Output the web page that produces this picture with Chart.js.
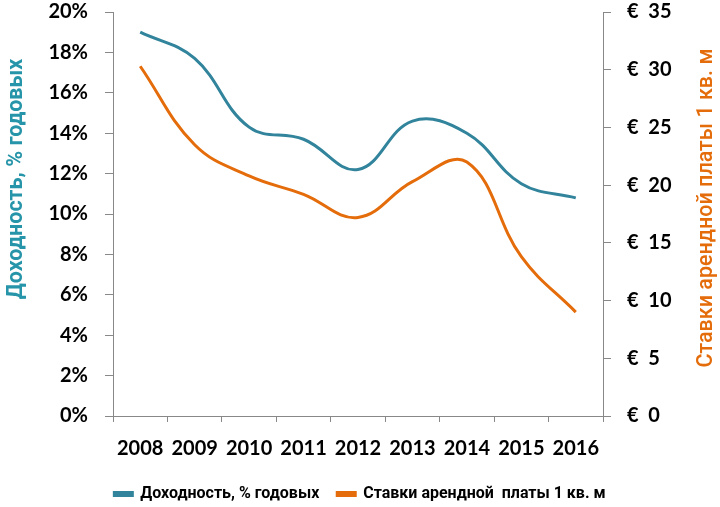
<!DOCTYPE html>
<html>
<head>
<meta charset="utf-8">
<script src="https://cdn.jsdelivr.net/npm/chart.js@4"></script>
<style>
  html, body { margin: 0; padding: 0; background: #fff; }
  #wrap { width: 720px; height: 507px; }
</style>
</head>
<body>
<div id="wrap"><canvas id="rentChart"></canvas></div>
<script>
const years = ['2008', '2009', '2010', '2011', '2012', '2013', '2014', '2015', '2016'];
const yieldPct = [19.0, 17.7, 14.3, 13.7, 12.2, 14.6, 14.0, 11.5, 10.8];
const rentEur = [30.3, 23.5, 20.8, 19.2, 17.2, 20.3, 22.0, 13.8, 9.0];
const yieldName = 'Доходность, % годовых';
const rentName = 'Ставки арендной  платы 1 кв. м';

const tealLine = '#31849B';
const orangeLine = '#E46C0A';
const axisGray = '#888888';
const tickFont = { family: 'Lato, Roboto, sans-serif', size: 20, weight: 'bold' };

// axis titles drawn by hand so they sit where the original has them
const axisTitles = {
  id: 'axisTitles',
  afterDraw(chart) {
    const ctx = chart.ctx;
    ctx.save();
    ctx.textAlign = 'center';
    ctx.textBaseline = 'middle';
    ctx.translate(17, 179);
    ctx.rotate(-Math.PI / 2);
    ctx.font = 'bold 21.5px Roboto, sans-serif';
    ctx.fillStyle = '#2795A9';
    ctx.fillText(yieldName, 0, 0);
    ctx.restore();

    ctx.save();
    ctx.textAlign = 'center';
    ctx.textBaseline = 'middle';
    ctx.translate(707, 208);
    ctx.rotate(-Math.PI / 2);
    ctx.font = '500 21.5px Roboto, sans-serif';
    ctx.fillStyle = '#E46C0A';
    ctx.fillText('Ставки арендной платы 1 кв. м', 0, 0);
    ctx.restore();
  }
};

// keep the value axes from reserving extra room above/below the plot
function fixSide(w) {
  return function(scale) {
    scale.width = w;
    scale.paddingTop = 12;
    scale.paddingBottom = 12;
  };
}

new Chart('rentChart', {
  type: 'line',
  data: {
    labels: years,
    datasets: [{
      label: yieldName + '  ',
      data: yieldPct,
      yAxisID: 'y',
      borderColor: tealLine,
      backgroundColor: tealLine,
      borderWidth: 3,
      pointRadius: 0,
      tension: 0.4
    }, {
      label: rentName,
      data: rentEur,
      yAxisID: 'y1',
      borderColor: orangeLine,
      backgroundColor: orangeLine,
      borderWidth: 3,
      pointRadius: 0,
      tension: 0.4
    }]
  },
  options: {
    responsive: true,
    maintainAspectRatio: false,
    animation: false,
    layout: { padding: { top: 0, bottom: -5 } },
    plugins: {
      legend: {
        position: 'bottom',
        labels: {
          color: '#000',
          font: { family: 'Roboto, sans-serif', size: 16, weight: 'bold' },
          boxWidth: 18,
          boxHeight: 3,
          padding: 10
        }
      },
      tooltip: { enabled: false }
    },
    scales: {
      x: {
        offset: true,
        grid: { offset: true, drawOnChartArea: false, color: axisGray, tickLength: 6 },
        border: { color: axisGray, width: 1 },
        ticks: { color: '#000', font: tickFont, padding: 15, maxRotation: 0 }
      },
      y: {
        position: 'left',
        min: 0, max: 20,
        grid: { drawOnChartArea: false, color: axisGray, tickLength: 8 },
        border: { color: axisGray, width: 1 },
        ticks: { stepSize: 2, color: '#000', font: tickFont, padding: 17,
          callback: v => v + '%' },
        afterFit: fixSide(113)
      },
      y1: {
        position: 'right',
        min: 0, max: 35,
        grid: { drawOnChartArea: false, color: axisGray, tickLength: 8 },
        border: { color: axisGray, width: 1 },
        ticks: { stepSize: 5, color: '#000', font: tickFont, padding: 16,
          callback: v => '€  ' + v },
        afterFit: fixSide(117)
      }
    }
  },
  plugins: [axisTitles]
});
</script>
</body>
</html>
